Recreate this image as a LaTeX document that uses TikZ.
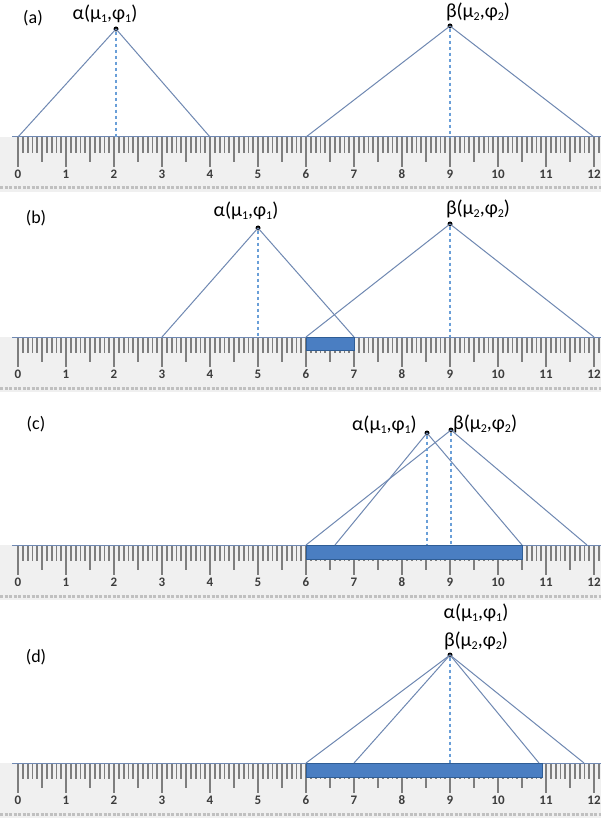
\documentclass[tikz,border=0pt]{standalone}
\usepackage{fontspec}
\setmainfont{Carlito}
\definecolor{tri}{HTML}{6F88B2}
\definecolor{vd}{HTML}{6A9FD8}
\definecolor{barfill}{HTML}{4A7EC2}
\definecolor{bardraw}{HTML}{2F5D95}
\definecolor{tickc}{HTML}{7E7E7E}
\definecolor{rbg}{HTML}{F0F0F0}
\definecolor{numc}{HTML}{3C3C3C}
\definecolor{bandc}{HTML}{C0C0C0}
\newcommand\sbs[1]{\raisebox{-0.35ex}{\fontsize{12}{12}\selectfont #1}}
\newcommand\lba{α(μ\sbs{1},φ\sbs{1})}
\newcommand\lbb{β(μ\sbs{2},φ\sbs{2})}
\newcommand\drawruler[1]{%
  \fill[rbg] (0,#1) rectangle (601,#1+55);
  \foreach \i in {0,...,121}{%
    \pgfmathsetmacro\xx{18+4.8*\i}%
    \pgfmathsetmacro\ll{ifthenelse(mod(\i,10)==0,30,ifthenelse(mod(\i,5)==0,25,16))}%
    \draw[tickc,line width=1.8pt] (\xx,#1) -- (\xx,#1+\ll);
  }
  \foreach \k in {0,...,12}{%
    \node[rnum] at (18+48*\k,#1+37) {\k};
  }
  \draw[bandc,line width=3pt,dash pattern=on 3pt off 1.5pt] (0,#1+51) -- (601,#1+51);
  \draw[tri,line width=1pt] (12,#1) -- (601,#1);
}
\tikzset{
  dot/.style={circle,fill=black,inner sep=0pt,minimum size=5pt},
  triline/.style={tri,line width=1pt},
  vdash/.style={vd,line width=1.3pt,dash pattern=on 3.5pt off 2.5pt},
  lbl/.style={font=\fontsize{20}{22}\selectfont,text=black,inner sep=0pt},
  plbl/.style={font=\fontsize{18}{20}\selectfont,text=black,inner sep=0pt},
  rnum/.style={font=\fontsize{13}{13}\selectfont\bfseries,text=numc,inner sep=0pt}
}
\begin{document}
\begin{tikzpicture}[x=1pt,y=-1pt]
\useasboundingbox (0,0) rectangle (601,818);
\fill[white] (0,0) rectangle (601,818);
% ---------------- (a)
\drawruler{137}
\node[plbl] (pa) at (33,18) {(a)};
\node[lbl] (la1) at (105,14) {\lba};
\node[lbl] (lb1) at (478,12) {\lbb};
\node[dot] (A1) at (116,29) {};
\node[dot] (B1) at (450,26) {};
\coordinate (A1l) at (18,137);
\coordinate (A1r) at (210,137);
\coordinate (A1m) at (116,137);
\coordinate (B1l) at (306,137);
\coordinate (B1r) at (594,137);
\coordinate (B1m) at (450,137);
\draw[triline] (A1l) -- (A1.center) -- (A1r);
\draw[triline] (B1l) -- (B1.center) -- (B1r);
\draw[vdash] (A1) -- (A1m);
\draw[vdash] (B1) -- (B1m);
% ---------------- (b)
\drawruler{337}
\fill[barfill] (306,337) rectangle (354,350);
\draw[bardraw,line width=1pt] (306,337) rectangle (354,350);
\node[plbl] (pb) at (36,218) {(b)};
\node[lbl] (la2) at (246,211) {\lba};
\node[lbl] (lb2) at (478,209) {\lbb};
\node[dot] (A2) at (258,228) {};
\node[dot] (B2) at (450,224) {};
\coordinate (A2l) at (162,337);
\coordinate (A2r) at (354,337);
\coordinate (A2m) at (258,337);
\coordinate (B2l) at (306,337);
\coordinate (B2r) at (594,337);
\coordinate (B2m) at (450,337);
\draw[triline] (A2l) -- (A2.center) -- (A2r);
\draw[triline] (B2l) -- (B2.center) -- (B2r);
\draw[vdash] (A2) -- (A2m);
\draw[vdash] (B2) -- (B2m);
% ---------------- (c)
\drawruler{545}
\fill[barfill] (306,545) rectangle (522,559);
\draw[bardraw,line width=1pt] (306,545) rectangle (522,559);
\node[plbl] (pc) at (36,424) {(c)};
\node[lbl,anchor=east] (la3) at (417,425) {\lba};
\node[lbl,anchor=west] (lb3) at (453,424) {\lbb};
\node[dot] (A3) at (427,433) {};
\node[dot] (B3) at (451,430) {};
\coordinate (A3l) at (335,545);
\coordinate (A3r) at (522,545);
\coordinate (A3m) at (427,545);
\coordinate (B3l) at (306,545);
\coordinate (B3r) at (587,545);
\coordinate (B3m) at (451,545);
\draw[triline] (A3l) -- (A3.center) -- (A3r);
\draw[triline] (B3l) -- (B3.center) -- (B3r);
\draw[vdash] (A3) -- (A3m);
\draw[vdash] (B3) -- (B3m);
% ---------------- (d)
\drawruler{763}
\fill[barfill] (306,763) rectangle (542,777);
\draw[bardraw,line width=1pt] (306,763) rectangle (542,777);
\node[plbl] (pd) at (36,657) {(d)};
\node[lbl] (la4) at (476,613) {\lba};
\node[lbl] (lb4) at (476,641) {\lbb};
\node[dot] (AB4) at (450,655) {};
\coordinate (A4l) at (354,763);
\coordinate (A4r) at (539,763);
\coordinate (B4l) at (306,763);
\coordinate (B4r) at (584,763);
\coordinate (AB4m) at (450,763);
\draw[triline] (A4l) -- (AB4.center) -- (A4r);
\draw[triline] (B4l) -- (AB4.center) -- (B4r);
\draw[vdash] (AB4) -- (AB4m);
\end{tikzpicture}
\end{document}
